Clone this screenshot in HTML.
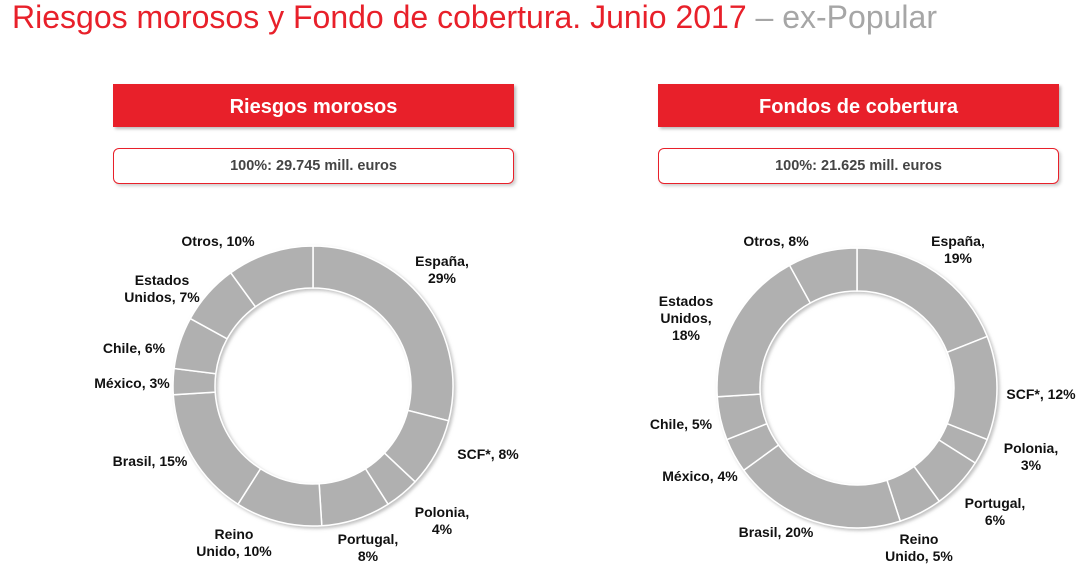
<!DOCTYPE html>
<html><head><meta charset="utf-8"><style>
body{margin:0;width:1089px;height:583px;background:#fff;overflow:hidden;position:relative;font-family:"Liberation Sans",Arial,sans-serif}
.title{position:absolute;left:12px;top:-1px;font-size:32px;color:#e8202a;white-space:nowrap}
.title span{color:#a6a6a6}
.hdr{position:absolute;top:84px;width:401px;height:43px;background:#e8202a;color:#fff;font-weight:bold;font-size:20px;text-align:center;line-height:46px;box-shadow:2px 2px 3px #bbb}
.sub{position:absolute;top:148px;width:399px;height:34px;border:1px solid #e8202a;border-radius:6px;font-weight:bold;font-size:14.5px;color:#444;text-align:center;line-height:34px;box-shadow:2px 2px 3px #ccc}
svg{position:absolute;left:0;top:0}
</style></head><body>
<div class="title">Riesgos morosos y Fondo de cobertura. Junio 2017 <span>– ex-Popular</span></div>
<div class="hdr" style="left:113px">Riesgos morosos</div>
<div class="hdr" style="left:658px">Fondos de cobertura</div>
<div class="sub" style="left:113px">100%: 29.745 mill. euros</div>
<div class="sub" style="left:658px">100%: 21.625 mill. euros</div>
<svg id="chart" width="1089" height="583">
<defs><filter id="sh"><feDropShadow dx="2" dy="2" stdDeviation="1.5" flood-color="#999" flood-opacity="0.6"/></filter></defs>
</svg>
<script>
const leftValues=[29,8,4,8,10,15,3,6,7,10];
const rightValues=[19,12,3,6,5,20,4,5,18,8];
const leftLabels=[["España,","29%"],["SCF*, 8%"],["Polonia,","4%"],["Portugal,","8%"],["Reino","Unido, 10%"],["Brasil, 15%"],["México, 3%"],["Chile, 6%"],["Estados","Unidos, 7%"],["Otros, 10%"]];
const rightLabels=[["España,","19%"],["SCF*, 12%"],["Polonia,","3%"],["Portugal,","6%"],["Reino","Unido, 5%"],["Brasil, 20%"],["México, 4%"],["Chile, 5%"],["Estados","Unidos,","18%"],["Otros, 8%"]];
const leftLabelPos=[[442,266],[488,459],[442,517],[368,544],[234,539],[150,466],[132,388],[134,353],[162,285],[218,246]];
const rightLabelPos=[[958,246],[1041,399],[1031,453],[995,508],[919,544],[776,537],[700,481],[681,429],[686,306],[776,246]];
const NS="http://www.w3.org/2000/svg";
const svg=document.getElementById('chart');
function donut(cx,cy,R,r,vals,labels,pos,prefix){
  const g=document.createElementNS(NS,'g');
  
  
  g.setAttribute('filter','url(#sh)');
  svg.appendChild(g);
  const tot=vals.reduce((a,b)=>a+b,0);let a0=0;
  vals.forEach((v,i)=>{
    const a1=a0+v/tot*2*Math.PI;
    const p=(a,rad)=>[cx+rad*Math.sin(a),cy-rad*Math.cos(a)];
    const [x0,y0]=p(a0,R),[x1,y1]=p(a1,R),[x2,y2]=p(a1,r),[x3,y3]=p(a0,r);
    const lg=(a1-a0)>Math.PI?1:0;
    const path=document.createElementNS(NS,'path');
    path.setAttribute('d',`M${x0},${y0}A${R},${R} 0 ${lg} 1 ${x1},${y1}L${x2},${y2}A${r},${r} 0 ${lg} 0 ${x3},${y3}Z`);
    path.setAttribute('fill','#b0b0b0');path.setAttribute('stroke','#fff');path.setAttribute('stroke-width','1.5');
    
    
    g.appendChild(path);
    a0=a1;
  });
  labels.forEach((lines,i)=>{
    const t=document.createElementNS(NS,'text');
    
    
    t.setAttribute('x',pos[i][0]);t.setAttribute('y',pos[i][1]);
    t.setAttribute('text-anchor','middle');t.setAttribute('font-weight','bold');t.setAttribute('font-size','14');t.setAttribute('fill','#111');
    t.setAttribute('font-family','Liberation Sans, Arial, sans-serif');
    lines.forEach((l,j)=>{const s=document.createElementNS(NS,'tspan');s.setAttribute('x',pos[i][0]);s.setAttribute('dy',j?'17':'0');s.textContent=l;t.appendChild(s);});
    svg.appendChild(t);
  });
}
donut(313,386,140,98,leftValues,leftLabels,leftLabelPos,'riesgos');
donut(857,388,140,97,rightValues,rightLabels,rightLabelPos,'fondos');
</script>
</body></html>
